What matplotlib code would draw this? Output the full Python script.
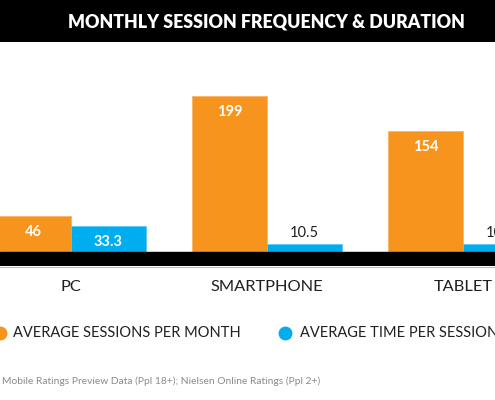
import numpy as np
import matplotlib.pyplot as plt
from matplotlib.patches import Rectangle
from matplotlib.lines import Line2D

categories = ["PC", "SMARTPHONE", "TABLET"]
sessions = [46, 199, 154]
time_per_session = [33.3, 10.5, 10.2]
series_names = ["AVERAGE SESSIONS PER MONTH", "AVERAGE TIME PER SESSION"]

orange = "#F7941D"
blue = "#00AEEF"
dark = "#231F20"

plt.rcParams['font.family'] = ['Lato', 'DejaVu Sans']

fig = plt.figure(figsize=(4.95, 4.0), dpi=100)

# black title band
fig.patches.append(Rectangle((0, 1 - 42 / 400), 1, 42 / 400, transform=fig.transFigure,
                             facecolor="black", edgecolor="none", zorder=0))
fig.text(266 / 495, 1 - 22 / 400, "MONTHLY SESSION FREQUENCY & DURATION", color="white",
         fontsize=12.8, fontweight="heavy", ha="center", va="center")

# axes: bottom edge at bottom of the black baseline band (px 266), top at px 42
ax = fig.add_axes([0, (400 - 266) / 400, 1, (266 - 42) / 400])
px_per_unit = 0.784
base = 14 / px_per_unit
ax.set_ylim(-base, 210 / px_per_unit)
ax.set_xlim(-71 / 196, (495 - 71) / 196)
ax.axis("off")

x = np.arange(len(categories))
w = 74.5 / 196
b1 = ax.bar(x - w / 2, sessions, w, color=orange, edgecolor="#FBB56A", linewidth=0.6)
b2 = ax.bar(x + w / 2, time_per_session, w, color=blue, edgecolor="#5CCBF3", linewidth=0.6)

ax.axhspan(-base, 0, color="black", zorder=3)

for bars, vals in [(b1, sessions), (b2, time_per_session)]:
    for r, v in zip(bars, vals):
        cx = r.get_x() + r.get_width() / 2
        if v > 20:
            ax.annotate(f"{v:g}", (cx, v), xytext=(0, -11.5), textcoords="offset points",
                        ha="center", va="center", color="white", fontsize=10.5,
                        fontweight="bold", annotation_clip=False)
        else:
            ax.annotate(f"{v:g}", (cx, v), xytext=(0, 8), textcoords="offset points",
                        ha="center", va="center", color=dark, fontsize=10.5,
                        annotation_clip=False)

# thin grey rule under the baseline band
fig.add_artist(Line2D([0, 1], [1 - 267 / 400] * 2, color="#BBBBBB", linewidth=0.8))

for xi, c in zip(x, categories):
    ax.text(xi, -base - 21 / px_per_unit, c, ha="center", va="center", color=dark,
            fontsize=11.8, clip_on=False)

# legend drawn by hand
ly = 1 - 333 / 400
for mx, tx, col, name in [(0, 13, orange, series_names[0]), (285, 300, blue, series_names[1])]:
    fig.add_artist(Line2D([mx / 495], [ly], marker="o", color=col, markersize=9,
                          linestyle="none"))
    fig.text(tx / 495, ly, name, color=dark, fontsize=10.5, ha="left", va="center")

fig.text(0.004, 1 - 381 / 400, "Mobile Ratings Preview Data (Ppl 18+); Nielsen Online Ratings (Ppl 2+)",
         color="#8A8A8A", fontsize=7.4, ha="left", va="center")

fig.savefig("out.png", dpi=100)
